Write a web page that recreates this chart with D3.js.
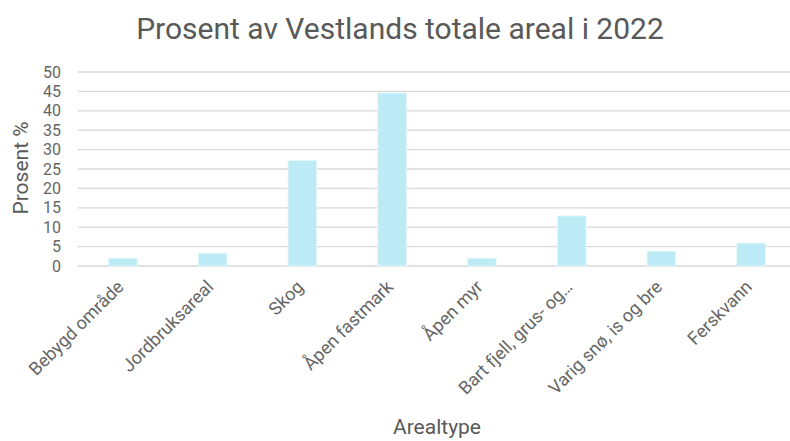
<!DOCTYPE html>
<html>
<head>
<meta charset="utf-8">
<script src="https://cdn.jsdelivr.net/npm/d3@7"></script>
<style>
  body { margin: 0; background: #fff; }
  svg text { font-family: Roboto, sans-serif; }
</style>
</head>
<body>
<div id="chart"></div>
<script>
// arealtyper og andel av totalt areal (%)
var categories = ['Bebygd område', 'Jordbruksareal', 'Skog', 'Åpen fastmark', 'Åpen myr',
                  'Bart fjell, grus- og…', 'Varig snø, is og bre', 'Ferskvann'];
var values = [2.0, 3.3, 27.2, 44.6, 2.0, 12.9, 3.8, 5.9];
var yTicks = [0, 5, 10, 15, 20, 25, 30, 35, 40, 45, 50];

var W = 790, H = 441;
var margin = {top: 72, right: -6, bottom: 175, left: 78},
    width = W - margin.left - margin.right,
    height = H - margin.top - margin.bottom;

var svg = d3.select("#chart")
  .append("svg")
    .attr("width", W)
    .attr("height", H)

var g = svg.append("g")
    .attr("transform", "translate(" + margin.left + "," + margin.top + ")");

var x = d3.scaleBand()
  .domain(categories)
  .range([0, width])
  .padding(0);

var y = d3.scaleLinear()
  .domain([0, 50])
  .range([height, 0]);

// gridlines
g.selectAll(".grid")
  .data(yTicks)
  .enter()
  .append("line")
    .attr("x1", 0)
    .attr("x2", width)
    .attr("y1", function(d) { return y(d); })
    .attr("y2", function(d) { return y(d); })
    .attr("stroke", "#d9d9d9")
    .attr("stroke-width", 1.3);

var yAxis = g.append("g")
  .call(d3.axisLeft(y).tickValues(yTicks).tickSize(0).tickPadding(17));
yAxis.select(".domain").remove();
yAxis.selectAll("text")
  .attr("fill", "#666")
  .style("font-size", "16px");

var barW = x.bandwidth() * 0.32;
g.selectAll(".bar")
  .data(values)
  .enter()
  .append("rect")
    .attr("x", function(d, i) { return x(categories[i]) + x.bandwidth() / 2 - barW / 2; })
    .attr("y", function(d) { return y(d); })
    .attr("width", barW)
    .attr("height", function(d) { return height - y(d); })
    .attr("fill", "#bdebf5")
    .attr("stroke", "#e3f6fb")
    .attr("stroke-width", 1);

var xAxis = g.append("g")
  .attr("transform", "translate(0," + height + ")")
  .call(d3.axisBottom(x).tickSize(0).tickPadding(0));
xAxis.select(".domain").remove();
xAxis.selectAll("text")
  .attr("fill", "#666")
  .style("font-size", "18px")
  .style("text-anchor", "end")
  .attr("dy", 0)
  .attr("transform", "translate(2,22) rotate(-45)");

svg.append("text")
  .attr("x", 400)
  .attr("y", 39)
  .attr("text-anchor", "middle")
  .attr("fill", "#595959")
  .style("font-size", "30px")
  .text("Prosent av Vestlands totale areal i 2022");

svg.append("text")
  .attr("transform", "translate(28,168) rotate(-90)")
  .attr("text-anchor", "middle")
  .attr("fill", "#595959")
  .style("font-size", "21px")
  .text("Prosent %");

svg.append("text")
  .attr("x", 437)
  .attr("y", 434)
  .attr("text-anchor", "middle")
  .attr("fill", "#595959")
  .style("font-size", "21px")
  .text("Arealtype");
</script>
</body>
</html>
